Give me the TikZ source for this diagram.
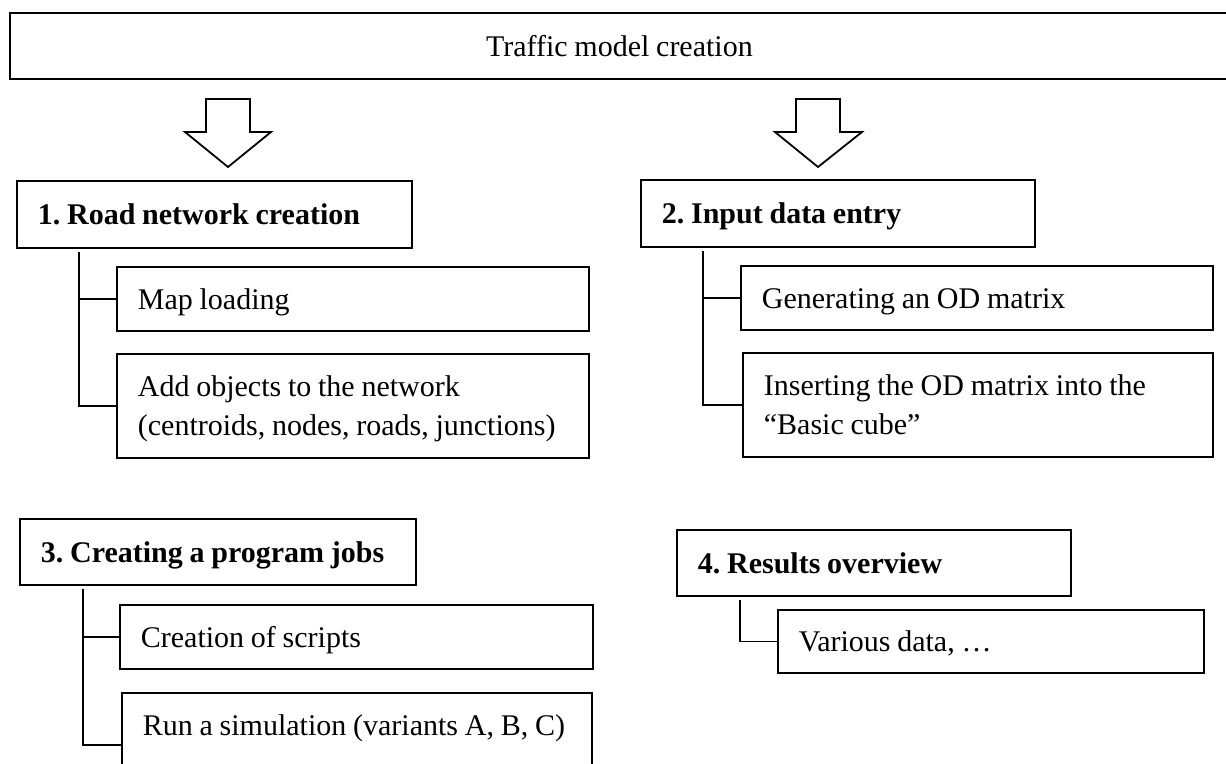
\documentclass[tikz,border=0pt]{standalone}
\usepackage{fontspec}
\setmainfont{Liberation Serif}[WordSpace=0.9]
\frenchspacing
\newcommand\lbtext[2]{\parbox[t]{#1}{\raggedright #2}}
\begin{document}
\begin{tikzpicture}[x=1pt,y=-1pt,
  box/.style={draw, line width=1.8pt, rectangle, inner ysep=0pt, inner xsep=21pt,
    anchor=north west, text height=24pt, text depth=3pt,
    font=\fontsize{30}{39}\selectfont},
  twoline/.style={box, text depth=42pt},
  head/.style={box, font=\fontsize{30}{39}\selectfont\bfseries},
  conn/.style={draw, line width=1.8pt},
  blockarrow/.style={draw, line width=1.8pt, line join=miter}]
\useasboundingbox (0,0) rectangle (1226,763);
\clip (0,0) rectangle (1226,763);

\node[box, inner xsep=0pt, minimum width=1219pt, minimum height=66pt] (top) at (9,12) {Traffic model creation};

\path[blockarrow] (206,99) -- (250,99) -- (250,132) -- (271,132) -- (228,167) -- (185,132) -- (206,132) -- cycle;
\path[blockarrow] (796,99) -- (840,99) -- (840,132) -- (862,132) -- (818,167) -- (775,132) -- (796,132) -- cycle;

% group 1
\node[head, minimum height=67pt] (b1) at (16,180) {\lbtext{353pt}{1. Road network creation}};
\node[box, minimum height=64pt] (map) at (116,266) {\lbtext{430pt}{Map loading}};
\node[twoline, minimum height=104pt] (add) at (116,353) {\lbtext{430pt}{Add objects to the network\\(centroids, nodes, roads, junctions)}};
\draw[conn] ([xshift=63pt,yshift=-3pt]b1.south west) |- (map.west);
\draw[conn] ([xshift=63pt,yshift=-3pt]b1.south west) |- (add.west);

% group 2
\node[head, minimum height=67pt] (b2) at (640,179) {\lbtext{352pt}{2. Input data entry}};
\node[box, minimum height=64pt] (gen) at (740,265) {\lbtext{430pt}{Generating an OD matrix}};
\node[twoline, minimum height=104pt] (ins) at (742,352) {\lbtext{428pt}{Inserting the OD matrix into the\\``Basic cube''}};
\draw[conn] ([xshift=63pt,yshift=-3pt]b2.south west) |- (gen.west);
\draw[conn] ([xshift=63pt,yshift=-3pt]b2.south west) |- (ins.west);

% group 3
\node[head, minimum height=66pt] (b3) at (19,518) {\lbtext{354pt}{3. Creating a program jobs}};
\node[box, minimum height=64pt] (scr) at (119,604) {\lbtext{431pt}{Creation of scripts}};
\node[twoline, minimum height=104pt] (run) at (121,692) {\lbtext{428pt}{Run a simulation (variants A, B, C)}};
\draw[conn] ([xshift=64pt,yshift=-3pt]b3.south west) |- (scr.west);
\draw[conn] ([xshift=64pt,yshift=-3pt]b3.south west) |- (run.west);

% group 4
\node[head, minimum height=66pt] (b4) at (676,529) {\lbtext{352pt}{4. Results overview}};
\node[box, minimum height=63pt] (var) at (777,609) {\lbtext{384pt}{Various data, \dots}};
\draw[conn] ([xshift=64pt,yshift=-3pt]b4.south west) |- (var.west);
\end{tikzpicture}
\end{document}
